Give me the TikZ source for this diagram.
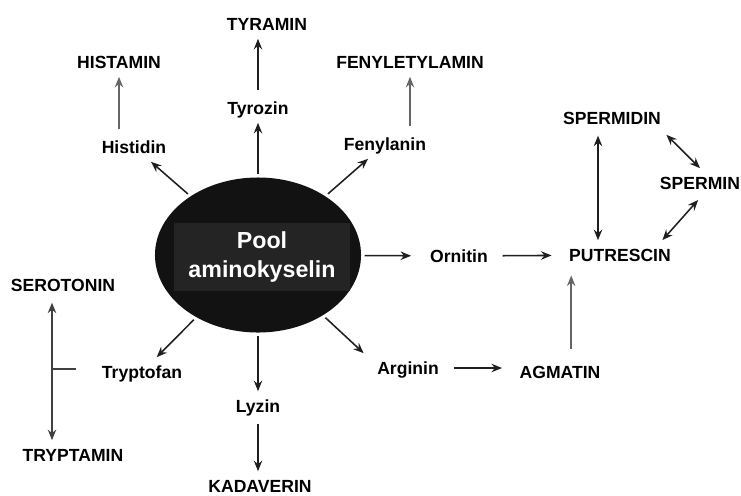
\documentclass[tikz,border=0pt]{standalone}
\usepackage{fontspec}
\setmainfont{Liberation Sans}
\usetikzlibrary{arrows.meta,shapes.geometric}

\begin{document}
\begin{tikzpicture}[
  x=0.025cm, y=-0.025cm,
  lbl/.style={font=\bfseries\fontsize{12.5}{14}\selectfont, inner xsep=2pt, inner ysep=5.5pt, text height=9pt, text depth=0pt},
  pool/.style={ellipse, fill=black!93, minimum width=5.15cm, minimum height=3.875cm, inner sep=0pt},
  poolbox/.style={fill=black!86, text=white, minimum width=4.375cm, minimum height=1.7cm, align=center, font=\bfseries\fontsize{16.5}{20.6}\selectfont},
  flow/.style={->, draw=black!88, shorten <=2pt},
  pale/.style={->, draw=black!60, shorten <=2pt},
  hflow/.style={flow, shorten <=8pt, shorten >=10pt},
  >={Stealth[length=7.5pt,width=6pt,inset=2.5pt]}, line width=1.1pt
]
\useasboundingbox (0,0) rectangle (741,495);
\node[pool] (pool) at (258,255) {};
\node[poolbox] (poolname) at (262,257) {Pool\\aminokyselin};

\node[lbl] (tyramin)   at (267,24)  {TYRAMIN};
\node[lbl] (tyrozin)   at (258,108) {Tyrozin};
\node[lbl] (histamin)  at (119,62)  {HISTAMIN};
\node[lbl] (histidin)  at (134,147) {Histidin};
\node[lbl] (fenylet)   at (410,62)  {FENYLETYLAMIN};
\node[lbl] (fenylanin) at (385,144) {Fenylanin};
\node[lbl] (ornitin)   at (459,256) {Ornitin};
\node[lbl] (putrescin) at (620,255) {PUTRESCIN};
\node[lbl] (spermidin) at (612,118) {SPERMIDIN};
\node[lbl] (spermin)   at (700,183) {SPERMIN};
\node[lbl] (arginin)   at (408,368) {Arginin};
\node[lbl] (agmatin)   at (560,372) {AGMATIN};
\node[lbl] (lyzin)     at (258,406) {Lyzin};
\node[lbl] (kadaverin) at (260,486) {KADAVERIN};
\node[lbl] (tryptofan) at (142,372) {Tryptofan};
\node[lbl] (serotonin) at (63,285)  {SEROTONIN};
\node[lbl] (tryptamin) at (73,455)  {TRYPTAMIN};
\coordinate (branch) at (52,369);

% amino acids from the pool
\draw[flow] (pool)--(tyrozin); \draw[flow] (pool)--(histidin); \draw[flow] (pool)--(fenylanin);
\draw[flow, shorten >=11pt] (pool)--(ornitin); \draw[flow] (pool)--([xshift=-0.25cm]arginin.north west);
\draw[flow] (pool)--(lyzin); \draw[flow] (pool)--(tryptofan);

% amines
\draw[flow] (tyrozin)--(tyrozin |- tyramin.south);
\draw[pale] (histamin |- histidin.north)--(histamin);
\draw[pale] (fenylet |- fenylanin.north)--(fenylet);
\draw[flow] (lyzin)--(lyzin |- kadaverin.north);
\draw[hflow] (ornitin)--(putrescin);
\draw[hflow] (arginin)--(arginin -| agmatin.west);
\draw[pale, shorten <=6pt, shorten >=4pt] ([xshift=0.28cm]agmatin.north)--([xshift=0.28cm]agmatin.north |- putrescin.south);
\draw[flow, <->] ([xshift=-0.35cm]spermidin.south)--([xshift=-0.35cm]spermidin.south |- putrescin.north);
\draw[flow, <->] (spermidin.south east)--(spermin.north);
\draw[flow, <->] (spermin.south)--([xshift=-0.3cm]putrescin.north east);
\draw[pale, <->, draw=black!75] (branch |- serotonin.south)--(branch |- tryptamin.north);
\draw[draw=black!75, shorten >=16pt] (branch)--(branch -| tryptofan.west);
\end{tikzpicture}
\end{document}
